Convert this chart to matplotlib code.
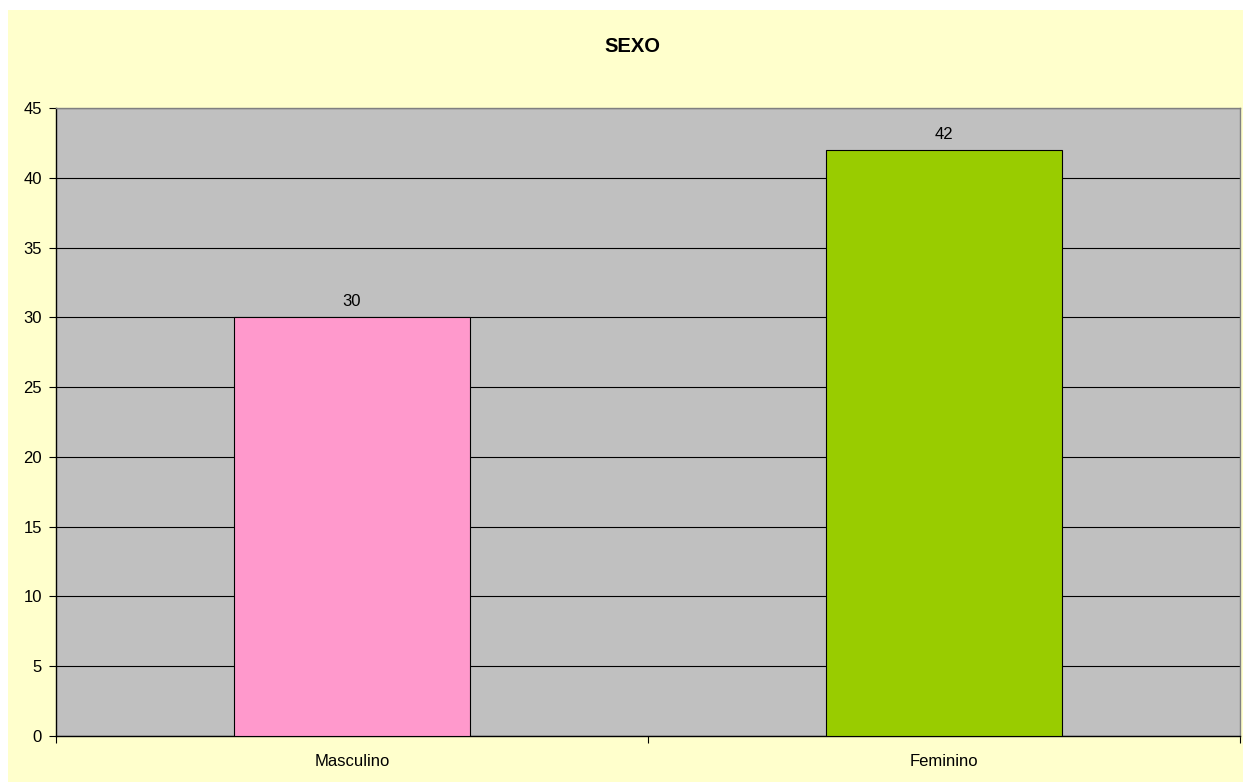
import matplotlib
matplotlib.use("Agg")
import matplotlib.pyplot as plt
from matplotlib.patches import Rectangle

categories = ["Masculino", "Feminino"]
values = [30, 42]
colors = ["#FF99CC", "#99CC00"]
yticks = [0, 5, 10, 15, 20, 25, 30, 35, 40, 45]
title = "SEXO"

plt.rcParams['font.family'] = ['Liberation Sans', 'DejaVu Sans']

W, H = 1243, 782
fig = plt.figure(figsize=(W / 100, H / 100), dpi=100)
fig.patch.set_facecolor("white")
fig.patches.append(Rectangle((8 / W, 0), 1 - 8 / W, 1 - 10 / H, transform=fig.transFigure,
                             facecolor="#FFFFCC", edgecolor="none", zorder=-10))

left, right, top, bottom = 56, 1240, 108, 736
ax = fig.add_axes([left / W, 1 - bottom / H, (right - left) / W, (bottom - top) / H])
ax.set_facecolor("#C0C0C0")

x = list(range(len(categories)))
bars = ax.bar(x, values, width=0.4, color=colors, edgecolor="black", linewidth=0.8, zorder=3)
for xi, v in zip(x, values):
    ax.annotate(str(v), (xi, v), xytext=(0, 8), textcoords="offset points",
                ha="center", va="baseline", fontsize=12, color="black", zorder=4)

ax.set_xlim(-0.5, len(categories) - 0.5)
ax.set_ylim(0, 45)
ax.set_yticks(yticks)
ax.set_yticklabels([str(t) for t in yticks], fontsize=12)
ax.yaxis.grid(True, color="black", linewidth=0.8, zorder=1)
ax.set_axisbelow(True)

ax.set_xticks(x)
ax.set_xticklabels(categories, fontsize=12)
ax.tick_params(axis="x", length=0, pad=13)
ax.set_xticks([-0.5, 0.5, 1.5], minor=True)
ax.tick_params(axis="x", which="minor", length=5, width=0.8, direction="out")
ax.tick_params(axis="y", length=5, width=0.8, direction="out", pad=5)

for s in ["left", "bottom"]:
    ax.spines[s].set_color("black")
    ax.spines[s].set_linewidth(1.0)
for s in ["top", "right"]:
    ax.spines[s].set_color("#808080")
    ax.spines[s].set_linewidth(1.0)

fig.text(632 / W, 1 - 46 / H, title, ha="center", va="center",
         fontsize=14.5, fontweight="bold")

fig.savefig("out.png", dpi=100, facecolor=fig.get_facecolor())
